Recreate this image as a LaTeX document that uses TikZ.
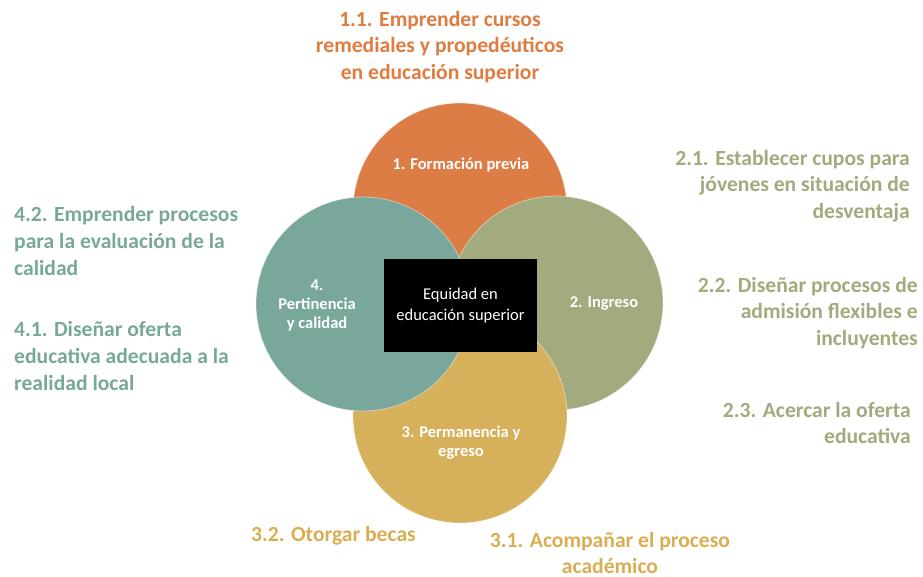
\documentclass[tikz,border=0pt]{standalone}
\usepackage{fontspec}
\setmainfont{Carlito}
\definecolor{corange}{HTML}{DB7D45}
\definecolor{colive}{HTML}{A2AB7E}
\definecolor{cgold}{HTML}{D6B05B}
\definecolor{cteal}{HTML}{79A79B}
\definecolor{torange}{HTML}{E07C40}
\definecolor{tolive}{HTML}{A3AA7D}
\definecolor{tgold}{HTML}{D9AE52}
\definecolor{tteal}{HTML}{78A89A}
\tikzset{
  circ/.style={circle, minimum size=214pt, inner sep=0pt, draw=white, draw opacity=0.45, line width=0.8pt},
  outer/.style={inner sep=0pt, font=\bfseries\fontsize{21.6}{26.6}\selectfont},
  inlab/.style={inner sep=0pt, text=white, align=center, font=\bfseries\fontsize{16.5}{19}\selectfont},
}
\begin{document}
\begin{tikzpicture}[x=1pt,y=-1pt]
\useasboundingbox (0,0) rectangle (923,577);
\fill[white] (0,0) rectangle (923,577);
% circles
\node[circ, fill=corange] (c1) at (460,210) {};
\node[circ, fill=colive] (c2) at (556,303) {};
\node[circ, fill=cgold] (c3) at (460,416) {};
\node[circ, fill=cteal] (c4) at (363,304) {};
% centre box
\node[fill=black, minimum width=153pt, minimum height=93pt, inner sep=0pt, text=white, align=center,
      font=\fontsize{16.5}{20.5}\selectfont] (box) at (460.5,305.5) {Equidad en\\educación superior};
% circle labels
\node[inlab] (l1) at (461,165) {1. Formación previa};
\node[inlab] (l2) at (604,303) {2. Ingreso};
\node[inlab] (l3) at (461,443) {3. Permanencia y\\egreso};
\node[inlab] (l4) at (317,305) {4.\\Pertinencia\\y calidad};
% outer texts
\node[outer, text=torange, align=center] (t11) at (440,47) {1.1. Emprender cursos\\remediales y propedéuticos\\en educación superior};
\node[outer, text=tolive, align=right, anchor=east] (t21) at (910,186) {2.1. Establecer cupos para\\jóvenes en situación de\\desventaja};
\node[outer, text=tolive, align=right, anchor=east] (t22) at (918,313) {2.2. Diseñar procesos de\\admisión flexibles e\\incluyentes};
\node[outer, text=tolive, align=right, anchor=east] (t23) at (911,423) {2.3. Acercar la oferta\\educativa};
\node[outer, text=tgold, anchor=west] (t32) at (251,536) {3.2. Otorgar becas};
\node[outer, text=tgold, align=center] (t31) at (610,553) {3.1. Acompañar el proceso\\académico};
\node[outer, text=tteal, align=left, anchor=west] (t42) at (14,241) {4.2. Emprender procesos\\para la evaluación de la\\calidad};
\node[outer, text=tteal, align=left, anchor=west] (t41) at (14,356) {4.1. Diseñar oferta\\educativa adecuada a la\\realidad local};
\end{tikzpicture}
\end{document}
